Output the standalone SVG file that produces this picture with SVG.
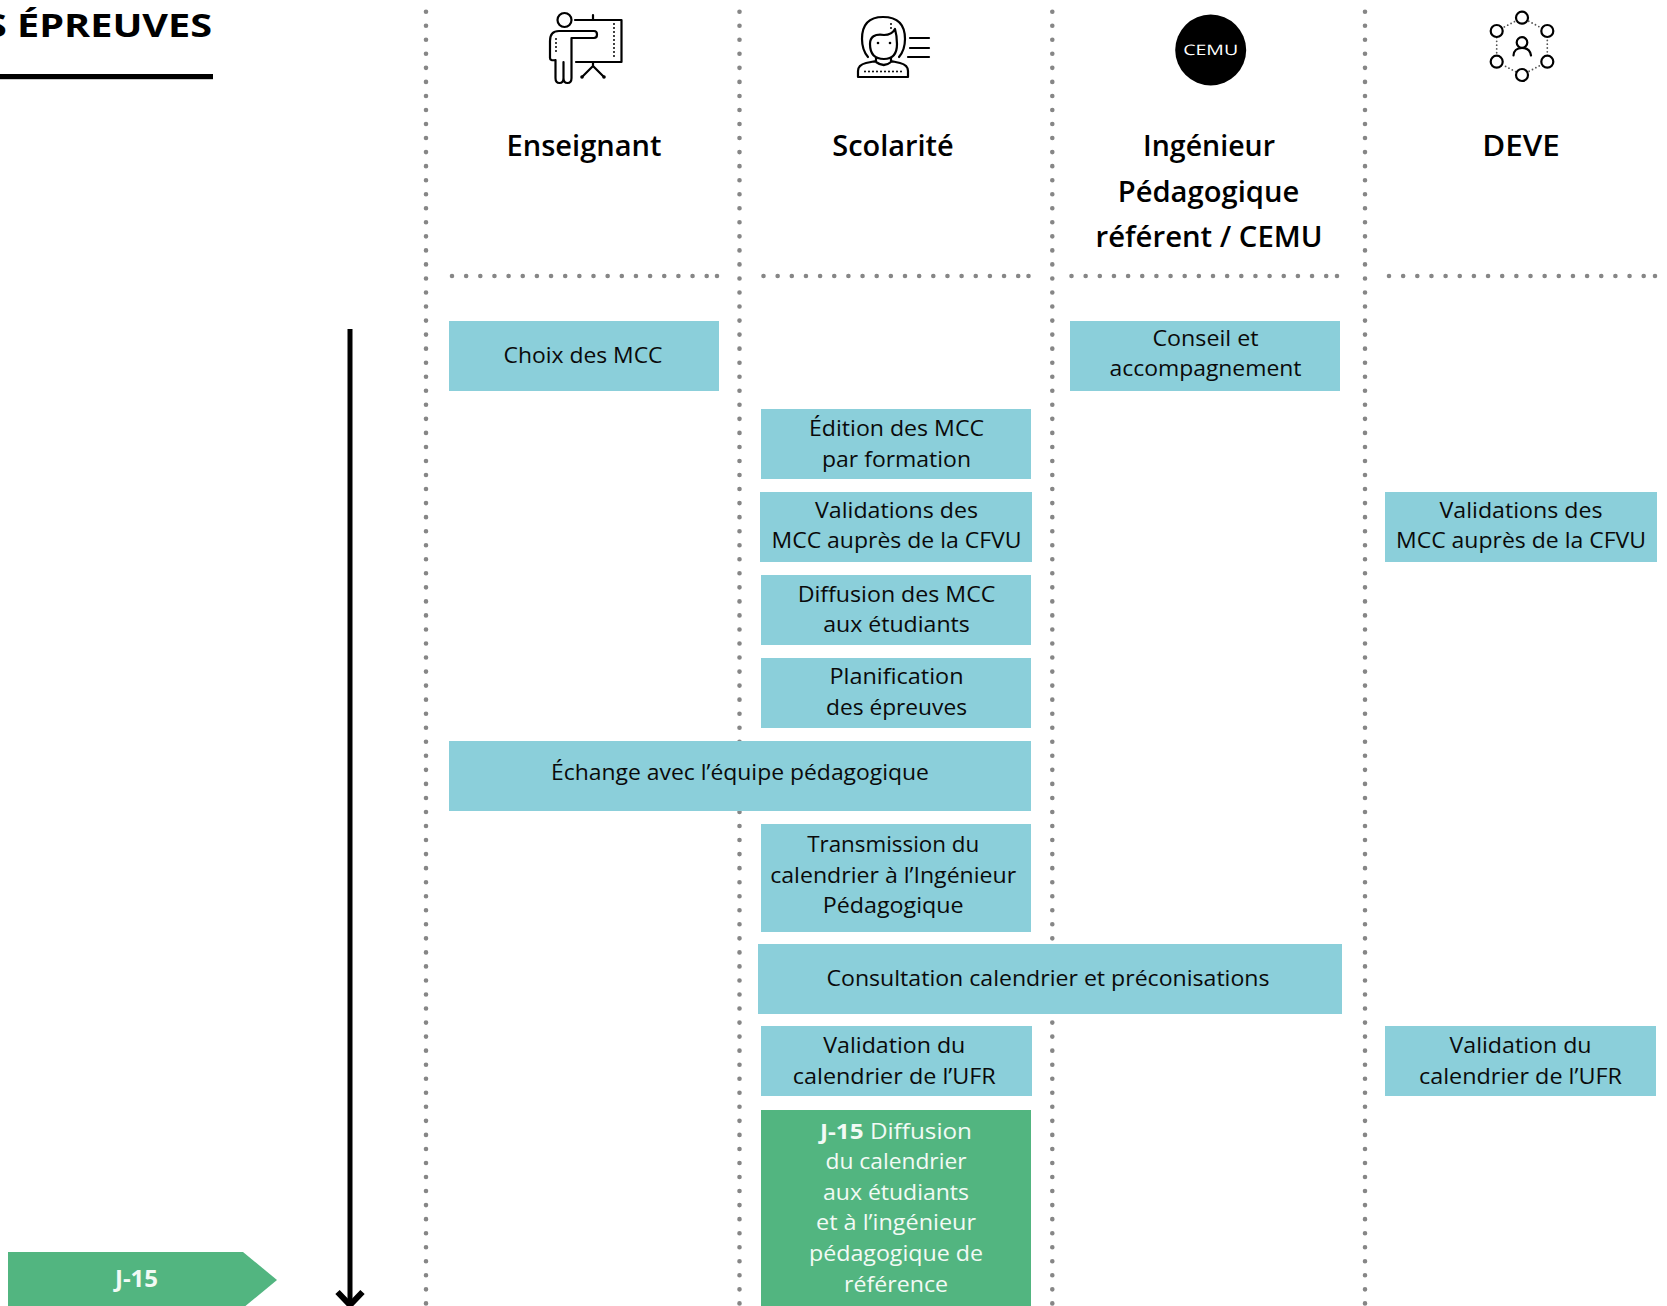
<svg xmlns="http://www.w3.org/2000/svg" width="1667" height="1306" viewBox="0 0 1667 1306">
<style>
text{font-family:"Open Sans","Noto Sans","DejaVu Sans",sans-serif;text-anchor:middle}
.t{font-size:22px;fill:#0a0a0a}
.w{font-size:22px;fill:#f2faf5}
.h{font-size:28px;font-weight:600;fill:#000}
.b{fill:#8bcfda}
.g{fill:#52b580}
.v{fill:none;stroke:#868686;stroke-width:4.6;stroke-linecap:round;stroke-dasharray:0 14.04}
.d{fill:none;stroke:#868686;stroke-width:4.6;stroke-linecap:round;stroke-dasharray:0 14.15}
.i{fill:none;stroke:#000;stroke-width:2.2;stroke-linecap:round;stroke-linejoin:round}
.p{fill:none;stroke:#000;stroke-width:2;stroke-linecap:round;stroke-dasharray:0 4}
.q{fill:none;stroke:#555;stroke-width:1.8;stroke-linecap:round;stroke-dasharray:0 3.8}
</style>
<rect width="1667" height="1306" fill="#fff"/>
<g id="guides">
<path class="v" d="M426 11.7V1306"/>
<path class="v" d="M739.5 11.7V1306"/>
<path class="v" d="M1052.3 11.7V1306"/>
<path class="v" d="M1365 11.7V1306"/>
<path class="d" d="M452 276H717M717 276h.01"/>
<path class="d" d="M763.5 276H1028.5M1028.5 276h.01"/>
<path class="d" d="M1071.5 276H1337M1337 276h.01"/>
<path class="d" d="M1389 276H1655M1655 276h.01"/>
</g>
<g id="title">
<text x="212" y="37" style="text-anchor:end;font-size:32px;font-weight:700" fill="#000" textLength="227" lengthAdjust="spacingAndGlyphs">S ÉPREUVES</text>
<rect x="0" y="74" width="213" height="5.2" fill="#000"/>
</g>
<g id="connectors">
<path d="M350 329V1304" fill="none" stroke="#000" stroke-width="5"/>
<path d="M337.5 1292L350 1305L362.5 1292" fill="none" stroke="#000" stroke-width="6"/>
</g>
<g id="milestone-j15">
<polygon class="g" points="8,1252 243,1252 277,1280 243,1308 8,1308"/>
<text x="136.5" y="1287.3" style="font-size:24px;font-weight:700" fill="#f2faf5">J-15</text>
</g>
<g id="col-enseignant">
<g class="icon">
<circle class="i" cx="564.5" cy="20" r="7"/>
<path class="i" d="M575 20H621.5V62H576M593 15V20M593 62V66M582 77L593 66L604 77"/>
<circle cx="582" cy="77" r="1.8"/><circle cx="604" cy="77" r="1.8"/>
<path class="i" d="M594 31H559Q550 31 550 41V58Q550 61 555.5 60V78Q555.5 83 559.5 83Q563.5 83 563.5 78V62M563.5 78Q563.5 83 567.5 83Q571.5 83 571.5 78V38H594Q597 38 597 34.5Q597 31 594 31"/>
<path class="p" d="M614 24V58M556 39V55"/>
</g>
<text class="h" x="584" y="155.5" textLength="155" lengthAdjust="spacingAndGlyphs">Enseignant</text>
</g>
<g id="col-scolarite">
<g class="icon">
<path class="i" d="M868 57Q862 50 862 39Q862 17 883 17Q905 17 905 39Q905 50 899 57"/>
<path class="i" d="M870 44Q870 33 884 35Q892 35 895 29Q897 36 897 44Q897 59 884 59Q870 59 870 44Z"/>
<path class="i" d="M876 58V62M891 58V62M876 62Q884 68 891 62M858 77V71Q858 65 866 63L876 61M891 61L900 63Q908 65 908 71V77H858"/>
<circle cx="878" cy="43" r="1.3"/><circle cx="890" cy="43" r="1.3"/>
<path class="i" d="M910 38H929M910 48H929M908 57H929"/>
<path class="p" d="M865 71.5H903M891 24V31"/>
</g>
<text class="h" x="893" y="155.5" textLength="121.5" lengthAdjust="spacingAndGlyphs">Scolarité</text>
</g>
<g id="col-ingenieur">
<circle cx="1210.7" cy="50" r="35.5" fill="#000"/>
<text x="1210.7" y="55" style="font-size:14.5px;font-weight:400;text-rendering:geometricPrecision" fill="#fff" textLength="55" lengthAdjust="spacingAndGlyphs">CEMU</text>
<text class="h" x="1209" y="155.5" textLength="132" lengthAdjust="spacingAndGlyphs">Ingénieur</text>
<text class="h" x="1208.5" y="201.5" textLength="181.5" lengthAdjust="spacingAndGlyphs">Pédagogique</text>
<text class="h" x="1209" y="246.5" textLength="227" lengthAdjust="spacingAndGlyphs">référent / CEMU</text>
</g>
<g id="col-deve">
<g class="icon">
<path class="q" d="M1522 17.7L1547.3 31V61.7L1522 75L1496.7 61.7V31Z"/>
<g fill="#fff" stroke="#000" stroke-width="2.2">
<circle cx="1522" cy="17.7" r="6"/><circle cx="1496.7" cy="31" r="6"/><circle cx="1547.3" cy="31" r="6"/>
<circle cx="1496.7" cy="61.7" r="6"/><circle cx="1547.3" cy="61.7" r="6"/><circle cx="1522" cy="75" r="6"/>
</g>
<circle class="i" cx="1522" cy="42.5" r="5.3"/>
<path class="i" d="M1513.5 55.5Q1514 48 1522 48Q1530 48 1531 55.5"/>
</g>
<text class="h" x="1521" y="155.5" textLength="77.5" lengthAdjust="spacingAndGlyphs">DEVE</text>
</g>
<g id="n-choix"><rect class="b" x="449" y="321" width="270" height="70"/><text class="t" x="583" y="363" textLength="159" lengthAdjust="spacingAndGlyphs">Choix des MCC</text></g>
<g id="n-conseil"><rect class="b" x="1070" y="321" width="270" height="70"/><text class="t" x="1205.5" y="346" textLength="106" lengthAdjust="spacingAndGlyphs">Conseil et</text><text class="t" x="1205.5" y="376" textLength="192" lengthAdjust="spacingAndGlyphs">accompagnement</text></g>
<g id="n-edition"><rect class="b" x="761" y="409" width="270" height="70"/><text class="t" x="896.5" y="436" textLength="175" lengthAdjust="spacingAndGlyphs">Édition des MCC</text><text class="t" x="896.5" y="467" textLength="149" lengthAdjust="spacingAndGlyphs">par formation</text></g>
<g id="n-validations"><rect class="b" x="760" y="492" width="272" height="70"/><text class="t" x="896.5" y="518" textLength="163" lengthAdjust="spacingAndGlyphs">Validations des</text><text class="t" x="896.5" y="548" textLength="250" lengthAdjust="spacingAndGlyphs">MCC auprès de la CFVU</text></g>
<g id="n-validations-deve"><rect class="b" x="1385" y="492" width="272" height="70"/><text class="t" x="1521" y="518" textLength="163" lengthAdjust="spacingAndGlyphs">Validations des</text><text class="t" x="1521" y="548" textLength="250" lengthAdjust="spacingAndGlyphs">MCC auprès de la CFVU</text></g>
<g id="n-diffusion"><rect class="b" x="761" y="575" width="270" height="70"/><text class="t" x="896.5" y="601.5" textLength="197.7" lengthAdjust="spacingAndGlyphs">Diffusion des MCC</text><text class="t" x="896.5" y="632" textLength="146.7" lengthAdjust="spacingAndGlyphs">aux étudiants</text></g>
<g id="n-planification"><rect class="b" x="761" y="658" width="270" height="70"/><text class="t" x="896.5" y="684" textLength="134" lengthAdjust="spacingAndGlyphs">Planification</text><text class="t" x="896.5" y="715" textLength="141" lengthAdjust="spacingAndGlyphs">des épreuves</text></g>
<g id="n-echange"><rect class="b" x="449" y="741" width="582" height="70"/><text class="t" x="740" y="780" textLength="378" lengthAdjust="spacingAndGlyphs">Échange avec l’équipe pédagogique</text></g>
<g id="n-transmission"><rect class="b" x="761" y="824" width="270" height="108"/><text class="t" x="893.2" y="852" textLength="172" lengthAdjust="spacingAndGlyphs">Transmission du</text><text class="t" x="893.2" y="883" textLength="246" lengthAdjust="spacingAndGlyphs">calendrier à l’Ingénieur</text><text class="t" x="893.2" y="913" textLength="141" lengthAdjust="spacingAndGlyphs">Pédagogique</text></g>
<g id="n-consultation"><rect class="b" x="758" y="944" width="584" height="70"/><text class="t" x="1048" y="986" textLength="443" lengthAdjust="spacingAndGlyphs">Consultation calendrier et préconisations</text></g>
<g id="n-validation-cal"><rect class="b" x="761" y="1026" width="271" height="70"/><text class="t" x="894.3" y="1053" textLength="142" lengthAdjust="spacingAndGlyphs">Validation du</text><text class="t" x="894.3" y="1084" textLength="203" lengthAdjust="spacingAndGlyphs">calendrier de l’UFR</text></g>
<g id="n-validation-cal-deve"><rect class="b" x="1385" y="1026" width="271" height="70"/><text class="t" x="1520.5" y="1053" textLength="142" lengthAdjust="spacingAndGlyphs">Validation du</text><text class="t" x="1520.5" y="1084" textLength="203" lengthAdjust="spacingAndGlyphs">calendrier de l’UFR</text></g>
<g id="n-diffusion-j15"><rect class="g" x="761" y="1110" width="270" height="196"/>
<text class="w" x="896" y="1139" textLength="152" lengthAdjust="spacingAndGlyphs"><tspan font-weight="700">J-15</tspan> Diffusion</text>
<text class="w" x="896" y="1169" textLength="141" lengthAdjust="spacingAndGlyphs">du calendrier</text>
<text class="w" x="896" y="1200" textLength="146" lengthAdjust="spacingAndGlyphs">aux étudiants</text>
<text class="w" x="896" y="1230" textLength="160" lengthAdjust="spacingAndGlyphs">et à l’ingénieur</text>
<text class="w" x="896" y="1261" textLength="174" lengthAdjust="spacingAndGlyphs">pédagogique de</text>
<text class="w" x="896" y="1292" textLength="104" lengthAdjust="spacingAndGlyphs">référence</text>
</g>
</svg>
